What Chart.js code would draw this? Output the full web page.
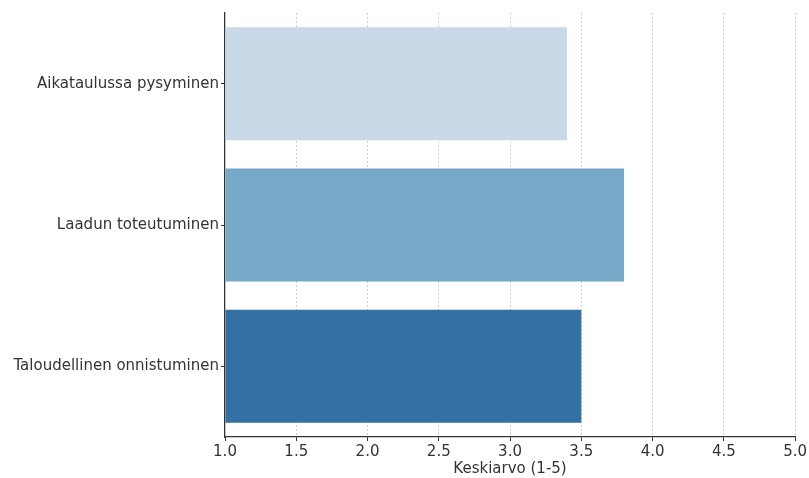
<!DOCTYPE html>
<html>
<head>
<meta charset="utf-8">
<script src="https://cdn.jsdelivr.net/npm/chart.js@4"></script>
<style>
  html, body { margin: 0; padding: 0; background: #ffffff; }
  #wrap { width: 809px; height: 478px; }
</style>
</head>
<body>
<div id="wrap"><canvas id="c" width="809" height="478"></canvas></div>
<script>
// Average score (1-5) per project success area
const categories = ['Aikataulussa pysyminen', 'Laadun toteutuminen', 'Taloudellinen onnistuminen'];
const averages = [3.4, 3.8, 3.5];
const barColors = ['#c9d9e8', '#76a8c8', '#3470a2'];
const xTicks = [1.0, 1.5, 2.0, 2.5, 3.0, 3.5, 4.0, 4.5, 5.0];
const xTitle = 'Keskiarvo (1-5)';

const FONT = "'DejaVu Sans', sans-serif";
const AXIS = '#333333';

new Chart(document.getElementById('c'), {
  type: 'bar',
  data: {
    labels: categories,
    datasets: [{
      data: averages,
      base: 1,
      backgroundColor: barColors,
      borderWidth: 0,
      barPercentage: 0.8,
      categoryPercentage: 1.0
    }]
  },
  options: {
    indexAxis: 'y',
    responsive: false,
    animation: false,
    devicePixelRatio: 1,
    layout: { padding: { top: 13, right: 13, bottom: 0, left: 0 } },
    plugins: { legend: { display: false }, tooltip: { enabled: false } },
    scales: {
      x: {
        type: 'linear',
        min: 1,
        max: 5,
        z: 1,
        afterBuildTicks: (scale) => { scale.ticks = xTicks.map(v => ({ value: v })); },
        afterFit: (scale) => { scale.height = 41; },
        ticks: {
          font: { family: FONT, size: 15 },
          color: AXIS,
          padding: 2,
          maxRotation: 0,
          callback: (v) => Number(v).toFixed(1)
        },
        grid: {
          color: (ctx) => ctx.index === 0 ? 'rgba(0,0,0,0)' : 'rgba(165,165,165,0.55)',
          lineWidth: 1,
          drawTicks: true,
          tickLength: 4,
          tickColor: AXIS,
          tickWidth: 1
        },
        border: { display: true, color: AXIS, width: 1.3, dash: [2, 2] },
        title: {
          display: true,
          text: xTitle,
          font: { family: FONT, size: 15 },
          color: AXIS,
          padding: { top: 0, bottom: 0 }
        }
      },
      y: {
        offset: true,
        afterFit: (scale) => { scale.width = 225; },
        ticks: {
          font: { family: FONT, size: 15 },
          color: AXIS,
          padding: 2
        },
        grid: {
          offset: false,
          drawOnChartArea: false,
          drawTicks: true,
          tickLength: 4,
          tickColor: AXIS,
          tickWidth: 1
        },
        border: { display: true, color: AXIS, width: 1.3 }
      }
    }
  }
});
</script>
</body>
</html>
